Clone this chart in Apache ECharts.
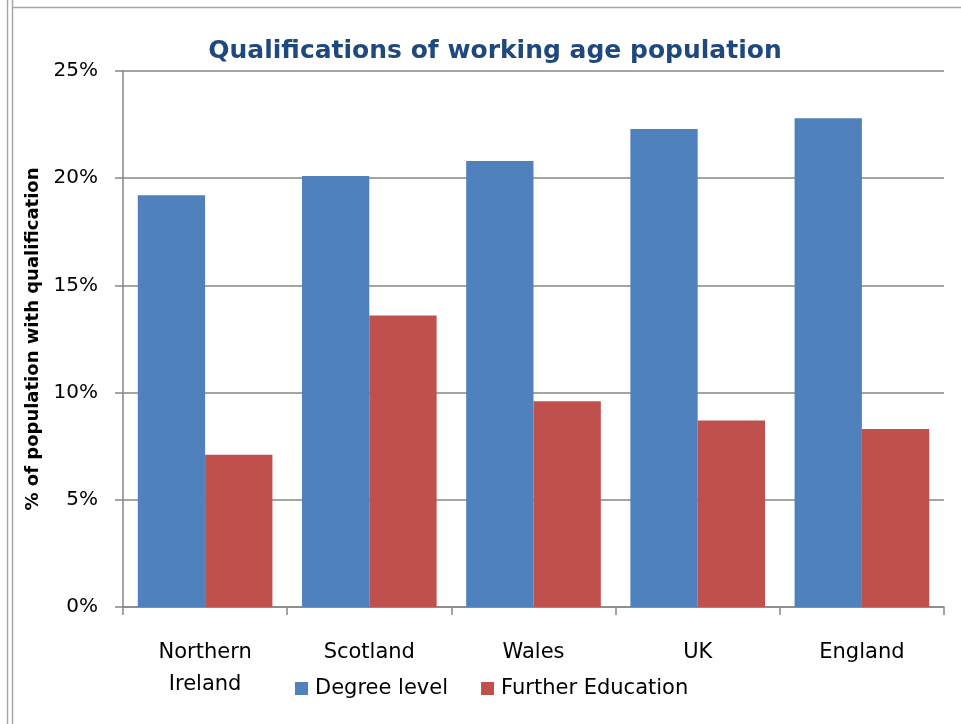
<!DOCTYPE html>
<html>
<head>
<meta charset="utf-8">
<script src="https://cdn.jsdelivr.net/npm/echarts@6/dist/echarts.min.js"></script>
<style>
  html, body { margin: 0; padding: 0; background: #fff; }
  #chart { width: 961px; height: 724px; }
</style>
</head>
<body>
<div id="chart"></div>
<script>
// Share of the working age population holding each qualification (%)
const regions = ['Northern\nIreland', 'Scotland', 'Wales', 'UK', 'England'];
const degreeLevel = [19.2, 20.1, 20.8, 22.3, 22.8];
const furtherEducation = [7.1, 13.6, 9.6, 8.7, 8.3];
const yTicks = { min: 0, max: 25, step: 5 };

const FONT = 'DejaVu Sans';
const chart = echarts.init(document.getElementById('chart'), null, { renderer: 'canvas' });

chart.setOption({
  backgroundColor: '#ffffff',
  animation: false,
  title: {
    text: 'Qualifications of working age population',
    left: 490,
    top: 34,
    textAlign: 'center',
    textStyle: { fontFamily: FONT, fontSize: 25, fontWeight: 'bold', color: '#1F497D' }
  },
  legend: {
    bottom: 20,
    left: 290,
    itemWidth: 13,
    itemHeight: 13,
    itemGap: 33,
    icon: 'rect',
    textStyle: { fontFamily: FONT, fontSize: 21, color: '#000', padding: [0, 0, 0, 2] },
    data: ['Degree level', 'Further Education']
  },
  grid: { left: 123, right: 17, top: 71, bottom: 117, containLabel: false },
  xAxis: {
    type: 'category',
    data: regions,
    axisLine: { lineStyle: { color: '#868686', width: 1.5 } },
    axisTick: { show: true, length: 8, lineStyle: { color: '#868686', width: 1.5 } },
    axisLabel: { fontFamily: FONT, fontSize: 21, color: '#000', margin: 30, lineHeight: 32 },
    splitLine: { show: false }
  },
  yAxis: {
    type: 'value',
    min: yTicks.min,
    max: yTicks.max,
    interval: yTicks.step,
    name: '% of population with qualification',
    nameLocation: 'middle',
    nameGap: 78,
    nameTextStyle: { fontFamily: FONT, fontSize: 18, fontWeight: 'bold', color: '#000' },
    axisLine: { show: true, lineStyle: { color: '#868686', width: 1.5 } },
    axisTick: { show: true, length: 8, lineStyle: { color: '#868686', width: 1.5 } },
    axisLabel: { formatter: '{value}%', fontFamily: FONT, fontSize: 20, color: '#000', margin: 25 },
    splitLine: { show: true, lineStyle: { color: '#868686', width: 1.5 } }
  },
  series: [
    {
      name: 'Degree level',
      type: 'bar',
      data: degreeLevel,
      barGap: '0%',
      barCategoryGap: '18%',
      itemStyle: { color: '#4F81BD' }
    },
    {
      name: 'Further Education',
      type: 'bar',
      data: furtherEducation,
      barGap: '0%',
      barCategoryGap: '18%',
      itemStyle: { color: '#C0504D' }
    }
  ],
  graphic: [
    { type: 'line', shape: { x1: 7.5, y1: 0, x2: 7.5, y2: 724 }, style: { stroke: '#a6a6a6', lineWidth: 1.5 } },
    { type: 'line', shape: { x1: 12.5, y1: 0, x2: 12.5, y2: 724 }, style: { stroke: '#a6a6a6', lineWidth: 1.5 } },
    { type: 'line', shape: { x1: 12.5, y1: 7.5, x2: 961, y2: 7.5 }, style: { stroke: '#a6a6a6', lineWidth: 1.5 } }
  ]
});
</script>
</body>
</html>
